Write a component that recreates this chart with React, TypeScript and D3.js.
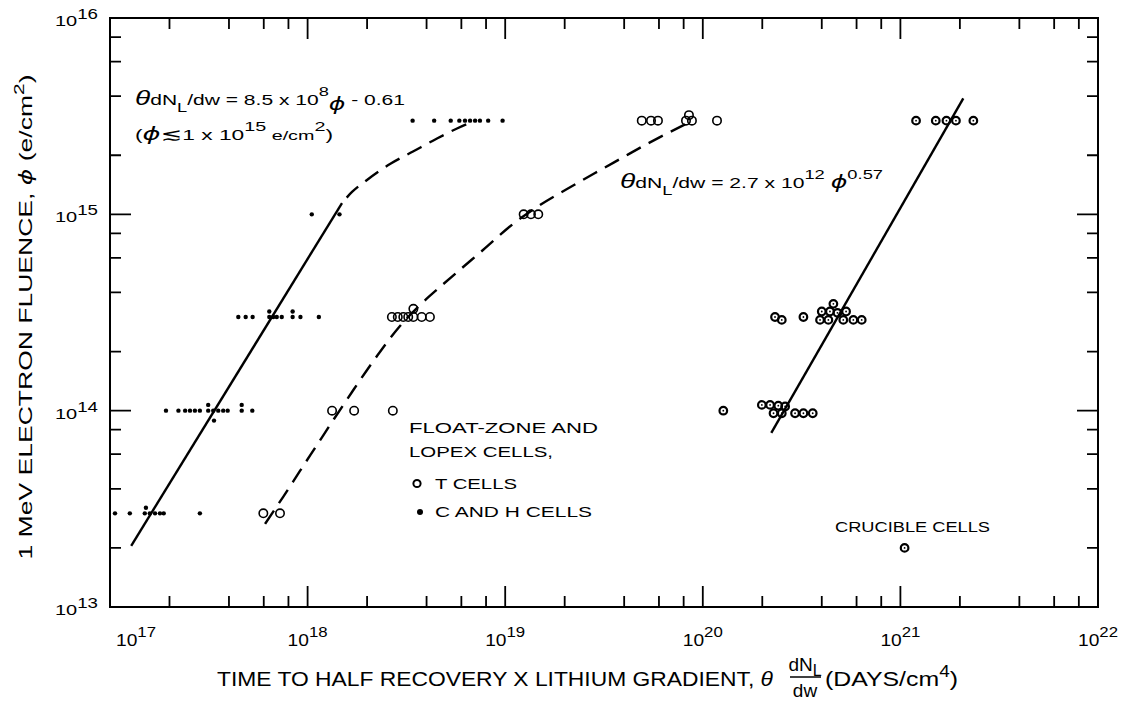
import React from 'react';
import * as d3 from 'd3';

const W = 1124;
const H = 701;
const FRAME = { left: 110, right: 1098, top: 18, bottom: 607 };

// Axis decades (exponents of ten) and minor tick multipliers
const xDecades = [17, 18, 19, 20, 21, 22];
const yDecades = [13, 14, 15, 16];
const minorSteps = [2, 4, 6, 8];

type Pt = [number, number]; // [θ dN_L/dw (days/cm^4), φ (e/cm^2)]

// Float-zone and Lopex C and H cells
const chCells3e13: Pt[] = [
  [1.06e17, 3e13], [1.26e17, 3e13], [1.52e17, 3.2e13], [1.5e17, 3e13], [1.59e17, 3e13],
  [1.69e17, 3e13], [1.79e17, 3e13], [1.87e17, 3e13], [2.85e17, 3e13],
];
const chCells1e14: Pt[] = [
  [1.92e17, 1e14], [2.22e17, 1e14], [2.4e17, 1e14], [2.54e17, 1e14], [2.69e17, 1e14],
  [2.85e17, 1e14], [3.14e17, 1.07e14], [3.14e17, 1e14], [3.33e17, 1e14], [3.36e17, 8.9e13],
  [3.53e17, 1e14], [3.74e17, 1e14], [3.94e17, 1e14], [4.64e17, 1.07e14], [4.64e17, 1e14],
  [5.25e17, 1e14],
];
const chCells3e14: Pt[] = [
  [4.46e17, 3e14], [4.86e17, 3e14], [5.27e17, 3e14], [6.4e17, 3.2e14], [6.4e17, 3e14],
  [6.7e17, 3e14], [6.98e17, 3e14], [7.4e17, 3e14], [8.4e17, 3.2e14], [8.4e17, 3e14],
  [9.2e17, 3e14], [1.14e18, 3e14],
];
const chCells1e15: Pt[] = [[1.05e18, 1e15], [1.45e18, 1e15]];
const chCells3e15: Pt[] = [
  [3.4e18, 3e15], [4.37e18, 3e15], [5.3e18, 3e15], [5.86e18, 3e15], [6.26e18, 3e15],
  [6.64e18, 3e15], [7.04e18, 3e15], [7.45e18, 3e15], [8.2e18, 3e15], [9.7e18, 3e15],
];

// Float-zone and Lopex T cells
const tCells: Pt[] = [
  [5.97e17, 3e13], [7.25e17, 3e13],
  [1.33e18, 1e14], [1.72e18, 1e14], [2.7e18, 1e14],
  [2.67e18, 3e14], [2.86e18, 3e14], [3.05e18, 3e14], [3.23e18, 3e14], [3.43e18, 3e14],
  [3.43e18, 3.3e14], [3.78e18, 3e14], [4.16e18, 3e14],
  [1.24e19, 1e15], [1.35e19, 1e15], [1.47e19, 1e15],
  [4.91e19, 3e15], [5.47e19, 3e15], [5.93e19, 3e15], [8.22e19, 3e15], [8.51e19, 3.2e15],
  [8.81e19, 3e15], [1.18e20, 3e15],
];

// Crucible cells
const crucibleCells: Pt[] = [
  [1.05e21, 2e13],
  [1.27e20, 1e14], [1.99e20, 1.07e14], [2.19e20, 1.07e14], [2.41e20, 1.06e14], [2.61e20, 1.05e14],
  [2.28e20, 9.7e13], [2.51e20, 9.7e13], [2.93e20, 9.7e13], [3.23e20, 9.7e13], [3.6e20, 9.7e13],
  [2.32e20, 3e14], [2.51e20, 2.9e14], [3.23e20, 3e14], [3.92e20, 2.9e14], [4.32e20, 2.9e14],
  [5.14e20, 2.9e14], [5.78e20, 2.9e14], [6.37e20, 2.9e14], [4.0e20, 3.2e14], [4.4e20, 3.2e14],
  [4.8e20, 3.15e14], [5.31e20, 3.2e14], [4.58e20, 3.5e14],
  [1.2e21, 3e15], [1.51e21, 3e15], [1.71e21, 3e15], [1.91e21, 3e15], [2.34e21, 3e15],
];

// Fit for C and H cells: straight power law, then dashed bend to saturation
const chFitSolid: Pt[] = [[1.28e17, 2.05e13], [1.493e18, 1.142e15]];
const chFitDashed: Pt[] = [
  [1.493e18, 1.142e15], [1.678e18, 1.3e15], [1.998e18, 1.496e15], [2.612e18, 1.804e15],
  [3.415e18, 2.089e15], [4.517e18, 2.434e15], [5.702e18, 2.736e15], [6.79e18, 2.953e15],
];

// Fit for T cells (dashed)
const tFitDashed: Pt[] = [
  [6.09e17, 2.65e13], [7.51e17, 3.63e13], [9.15e17, 4.93e13], [1.116e18, 6.69e13],
  [1.36e18, 9.07e13], [1.678e18, 1.245e14], [2.245e18, 1.9e14], [2.935e18, 2.7e14],
  [3.705e18, 3.453e14], [4.677e18, 4.265e14], [6.045e18, 5.33e14], [7.72e18, 6.58e14],
  [1.095e19, 8.93e14], [1.5e19, 1.116e15], [2.055e19, 1.346e15], [2.848e19, 1.624e15],
  [3.81e19, 1.913e15], [5.22e19, 2.282e15], [6.82e19, 2.627e15], [8.42e19, 2.919e15],
];

// Crucible fit: θ dN_L/dw = 2.7 × 10^12 φ^0.57
const crucibleCoef = 2.7e12;
const crucibleExp = 0.57;
const crucibleFluenceRange = [7.7e13, 3.9e15];

type Seg = { t: string; shift?: number; size?: number; italic?: boolean; family?: string };

function Rich(props: {
  x: number; y: number; segs: Seg[]; size: number; family: string;
  length?: number; anchor?: string; transform?: string; weight?: string;
}) {
  let prev = 0;
  return (
    <text
      x={props.x}
      y={props.y}
      fontSize={props.size}
      fontFamily={props.family}
      fontWeight={props.weight}
      textAnchor={props.anchor}
      transform={props.transform}
      textLength={props.length}
      lengthAdjust={props.length ? 'spacingAndGlyphs' : undefined}
      style={{ whiteSpace: 'pre' }}
      fill="#000"
    >
      {props.segs.map((s, i) => {
        const sh = s.shift ?? 0;
        const dy = sh - prev;
        prev = sh;
        return (
          <tspan
            key={i}
            dy={dy || undefined}
            fontSize={s.size}
            fontStyle={s.italic ? 'italic' : undefined}
            fontFamily={s.family}
          >
            {s.t}
          </tspan>
        );
      })}
    </text>
  );
}

const WIDE = "'Liberation Sans', Arial, sans-serif";
const NARROW = "'Liberation Sans Narrow', 'Liberation Sans', Arial, sans-serif";
const SANS = "'Liberation Sans', Arial, sans-serif";
const PHI = "'DejaVu Sans', sans-serif";
const PHI_CHAR = 'ϕ';

export default function App() {
  const x = d3.scaleLog().domain([1e17, 1e22]).range([FRAME.left, FRAME.right]);
  const y = d3.scaleLog().domain([1e13, 1e16]).range([FRAME.bottom, FRAME.top]);

  const straight = d3.line<Pt>().x((d) => x(d[0])).y((d) => y(d[1]));
  const smooth = d3
    .line<Pt>()
    .x((d) => x(d[0]))
    .y((d) => y(d[1]))
    .curve(d3.curveMonotoneX);

  const crucibleFit: Pt[] = crucibleFluenceRange.map((f) => [crucibleCoef * Math.pow(f, crucibleExp), f]);

  const chCells = [...chCells3e13, ...chCells1e14, ...chCells3e14, ...chCells1e15, ...chCells3e15];

  // ticks on all four sides, pointing inward
  const xMajor = xDecades.map((k) => Math.pow(10, k));
  const xMinor = xDecades.slice(0, -1).flatMap((k) => minorSteps.map((m) => m * Math.pow(10, k)));
  const yMajor = yDecades.map((k) => Math.pow(10, k));
  const yMinor = yDecades.slice(0, -1).flatMap((k) => minorSteps.map((m) => m * Math.pow(10, k)));
  const MAJ = 21;
  const MIN = 11;

  const tickPaths: string[] = [];
  const addX = (v: number, len: number) => {
    const px = x(v);
    tickPaths.push(`M${px},${FRAME.bottom}V${FRAME.bottom - len}`);
    tickPaths.push(`M${px},${FRAME.top}V${FRAME.top + len}`);
  };
  const addY = (v: number, len: number) => {
    const py = y(v);
    tickPaths.push(`M${FRAME.left},${py}H${FRAME.left + len}`);
    tickPaths.push(`M${FRAME.right},${py}H${FRAME.right - len}`);
  };
  xMajor.forEach((v) => addX(v, MAJ));
  xMinor.forEach((v) => addX(v, MIN));
  yMajor.forEach((v) => addY(v, MAJ));
  yMinor.forEach((v) => addY(v, MIN));

  return (
    <svg
      width={W}
      height={H}
      viewBox={`0 0 ${W} ${H}`}
      style={{ position: 'absolute', left: 0, top: 0, background: '#fff' }}
    >
      <rect x={0} y={0} width={W} height={H} fill="#fff" />

      {/* frame and ticks */}
      <rect
        x={FRAME.left}
        y={FRAME.top}
        width={FRAME.right - FRAME.left}
        height={FRAME.bottom - FRAME.top}
        fill="none"
        stroke="#000"
        strokeWidth={2}
      />
      <path d={tickPaths.join('')} stroke="#000" strokeWidth={1.8} fill="none" />

      {/* x tick labels */}
      {xDecades.map((k, i) => {
        const px = x(Math.pow(10, k));
        const left = i === 0 ? px + 6 : px - 20;
        return (
          <Rich
            key={k}
            x={left}
            y={646}
            size={16}
            family={NARROW}
            length={40}
            segs={[{ t: '10' }, { t: String(k), shift: -9, size: 14 }]}
          />
        );
      })}

      {/* y tick labels */}
      {yDecades.map((k) => {
        const py = y(Math.pow(10, k));
        return (
          <Rich
            key={k}
            x={55}
            y={py + 8}
            size={15}
            family={SANS}
            length={43}
            segs={[{ t: '10' }, { t: String(k), shift: -7, size: 14 }]}
          />
        );
      })}

      {/* axis titles */}
      <Rich
        x={0}
        y={0}
        transform="translate(32,317) rotate(-90)"
        anchor="middle"
        size={19}
        family={NARROW}
        length={485}
        segs={[
          { t: '1 MeV ELECTRON FLUENCE, ' },
          { t: PHI_CHAR, family: PHI, italic: true, size: 18 },
          { t: ' (e/cm' },
          { t: '2', shift: -8, size: 15 },
          { t: ')' },
        ]}
      />
      <Rich
        x={217}
        y={686}
        size={21}
        family={NARROW}
        length={556}
        segs={[{ t: 'TIME TO HALF RECOVERY X LITHIUM GRADIENT, ' }, { t: 'θ', italic: true }]}
      />
      <Rich
        x={805}
        y={671}
        anchor="middle"
        size={19}
        family={NARROW}
        segs={[{ t: 'dN' }, { t: 'L', shift: 5, size: 16 }]}
      />
      <line x1={790} x2={821} y1={677} y2={677} stroke="#000" strokeWidth={1.5} />
      <Rich x={805} y={697} anchor="middle" size={19} family={NARROW} segs={[{ t: 'dw' }]} />
      <Rich
        x={825}
        y={686}
        size={21}
        family={NARROW}
        length={133}
        segs={[{ t: '(DAYS/cm' }, { t: '4', shift: -9, size: 16 }, { t: ')' }]}
      />

      {/* fit lines */}
      <path d={straight(chFitSolid) ?? ''} stroke="#000" strokeWidth={2.4} fill="none" />
      <path
        d={smooth(chFitDashed) ?? ''}
        stroke="#000"
        strokeWidth={2.4}
        fill="none"
        strokeDasharray="16 9"
        strokeDashoffset={18}
      />
      <path d={smooth(tFitDashed) ?? ''} stroke="#000" strokeWidth={2.4} fill="none" strokeDasharray="16 9" />
      <path d={straight(crucibleFit) ?? ''} stroke="#000" strokeWidth={2.4} fill="none" />

      {/* C and H cells */}
      {chCells.map((d, i) => (
        <circle key={`ch${i}`} cx={x(d[0])} cy={y(d[1])} r={2.2} fill="#000" />
      ))}

      {/* T cells */}
      {tCells.map((d, i) => (
        <circle key={`t${i}`} cx={x(d[0])} cy={y(d[1])} r={4.2} fill="none" stroke="#000" strokeWidth={1.6} />
      ))}

      {/* crucible cells */}
      {crucibleCells.map((d, i) => (
        <g key={`c${i}`}>
          <circle cx={x(d[0])} cy={y(d[1])} r={3.8} fill="none" stroke="#000" strokeWidth={2.2} />
          <circle cx={x(d[0])} cy={y(d[1])} r={0.9} fill="#000" />
        </g>
      ))}

      {/* fit equations */}
      <Rich
        x={135}
        y={105}
        size={15}
        family={WIDE}
        length={270}
        segs={[
          { t: 'θ', italic: true, size: 20 },
          { t: 'dN' },
          { t: 'L', shift: 7, size: 13 },
          { t: '/dw = 8.5 x 10' },
          { t: '8', shift: -9, size: 13 },
          { t: PHI_CHAR, shift: 5, family: PHI, italic: true, size: 18 },
          { t: ' - 0.61' },
        ]}
      />
      <Rich
        x={135}
        y={140}
        size={15}
        family={WIDE}
        length={198}
        segs={[
          { t: '(' },
          { t: PHI_CHAR, family: PHI, italic: true, size: 18 },
          { t: '≲', size: 17, family: PHI },
          { t: '1 x 10' },
          { t: '15', shift: -9, size: 13 },
          { t: ' e/cm', size: 13 },
          { t: '2', shift: -9, size: 13 },
          { t: ')' },
        ]}
      />
      <Rich
        x={620}
        y={188}
        size={15}
        family={WIDE}
        length={263}
        segs={[
          { t: 'θ', italic: true, size: 20 },
          { t: 'dN' },
          { t: 'L', shift: 7, size: 13 },
          { t: '/dw = 2.7 x 10' },
          { t: '12', shift: -9, size: 13 },
          { t: ' ' },
          { t: PHI_CHAR, family: PHI, italic: true, size: 18 },
          { t: '0.57', shift: -9, size: 13 },
        ]}
      />

      {/* legend */}
      <Rich x={409} y={433} size={15} family={WIDE} length={189} segs={[{ t: 'FLOAT-ZONE AND' }]} />
      <Rich x={409} y={457} size={15} family={WIDE} length={144} segs={[{ t: 'LOPEX CELLS,' }]} />
      <circle cx={417} cy={483.5} r={3.6} fill="none" stroke="#000" strokeWidth={2} />
      <Rich x={435} y={489} size={15} family={WIDE} length={82} segs={[{ t: 'T CELLS' }]} />
      <circle cx={420} cy={512} r={3} fill="#000" />
      <Rich x={435} y={517} size={15} family={WIDE} length={157} segs={[{ t: 'C AND H CELLS' }]} />
      <Rich x={835} y={532} size={14} family={WIDE} length={155} segs={[{ t: 'CRUCIBLE CELLS' }]} />
    </svg>
  );
}
